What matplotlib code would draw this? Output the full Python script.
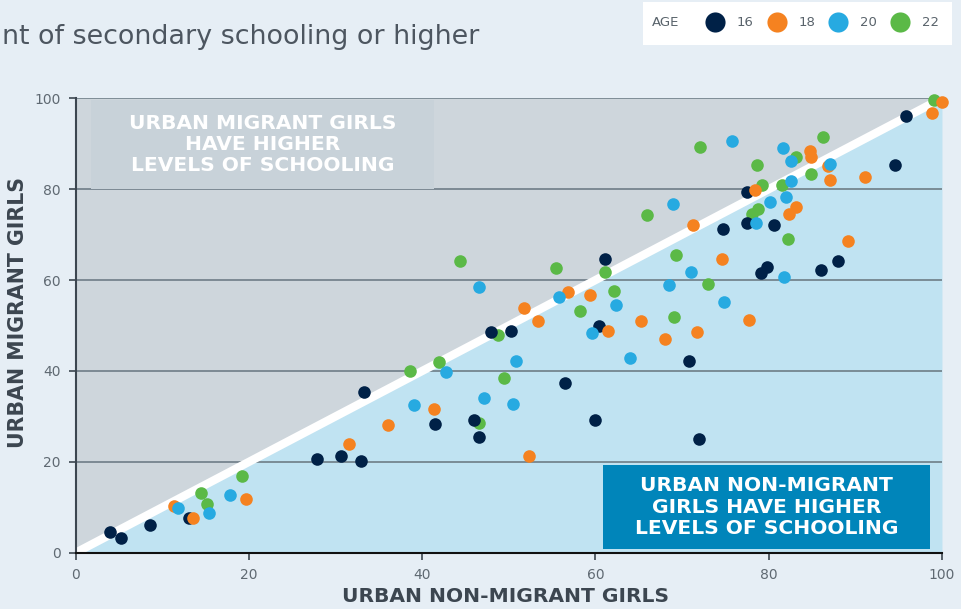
import matplotlib.pyplot as plt
from matplotlib.lines import Line2D
from matplotlib.patches import Rectangle

#%% data: share (%) with secondary schooling or higher, by age
ages = ['16', '18', '20', '22']
colors = {'16': '#002147', '18': '#f58220', '20': '#27aae1', '22': '#5bb947'}

nonmig_16 = [4.0, 5.2, 8.6, 13.1, 27.9, 30.6, 32.9, 33.3, 41.5, 46.0, 46.6, 47.9, 50.3, 56.5, 59.9,
             60.4, 61.1, 70.8, 72.0, 74.7, 77.5, 77.5, 80.6, 79.8, 79.1, 86.0, 88.0, 94.6, 95.8]
mig_16 = [4.6, 3.3, 6.2, 7.6, 20.6, 21.3, 20.1, 35.4, 28.4, 29.2, 25.5, 48.5, 48.7, 37.4, 29.2,
          50.0, 64.7, 42.3, 25.1, 71.2, 79.3, 72.5, 72.1, 62.9, 61.6, 62.2, 64.3, 85.4, 96.1]

nonmig_18 = [100.0, 98.8, 84.8, 84.9, 86.8, 87.1, 91.1, 78.4, 83.2, 82.3, 71.3, 89.2, 74.6, 56.8, 59.4,
             51.7, 53.4, 61.5, 65.3, 71.7, 77.7, 68.0, 52.3, 41.4, 36.1, 31.6, 19.6, 11.3, 13.5]
mig_18 = [99.1, 96.8, 88.5, 87.0, 85.2, 82.0, 82.6, 79.9, 76.1, 74.5, 72.1, 68.6, 64.6, 57.3, 56.7,
          53.9, 51.1, 48.9, 51.0, 48.5, 51.2, 47.0, 21.3, 31.6, 28.0, 23.9, 11.8, 10.3, 7.6]

nonmig_20 = [75.8, 81.6, 82.6, 87.1, 82.6, 68.9, 80.2, 82.0, 78.5, 71.0, 68.5, 81.8, 55.8, 62.4, 74.8,
             59.6, 64.0, 50.8, 50.5, 47.1, 46.5, 42.7, 39.1, 17.8, 15.4, 11.8]
mig_20 = [90.6, 89.1, 86.2, 85.6, 81.8, 76.8, 77.1, 78.3, 72.6, 61.7, 58.9, 60.7, 56.3, 54.5, 55.2,
          48.3, 42.9, 42.3, 32.7, 34.0, 58.5, 39.8, 32.5, 12.7, 8.7, 9.9]

nonmig_22 = [99.1, 86.3, 72.1, 83.2, 78.7, 84.9, 79.2, 81.5, 78.8, 78.1, 66.0, 82.2, 69.3, 55.5, 61.1,
             62.1, 73.0, 58.2, 69.1, 48.7, 44.4, 49.4, 46.5, 41.9, 38.6, 19.2, 14.5, 15.2]
mig_22 = [99.6, 91.4, 89.3, 87.0, 85.3, 83.4, 80.9, 80.9, 75.6, 74.5, 74.3, 69.0, 65.5, 62.7, 61.8,
          57.6, 59.2, 53.2, 51.9, 47.9, 64.2, 38.4, 28.5, 42.0, 40.0, 16.9, 13.2, 10.7]

series = {'16': (nonmig_16, mig_16), '18': (nonmig_18, mig_18),
          '20': (nonmig_20, mig_20), '22': (nonmig_22, mig_22)}
draw_order = ['22', '16', '18', '20']

lims = [0, 100]
yticks = [0, 20, 40, 60, 80, 100]

#%% figure
bg = '#e6eef5'
txt = '#3c4650'
fig = plt.figure(figsize=(9.61, 6.09), dpi=100, facecolor=bg)
ax = fig.add_axes([0.0788, 0.0924, 0.9014, 0.7462])
ax.set_facecolor(bg)

# the two regions either side of the parity line
ax.fill_between(lims, lims, lims[1], color='#ced6dc', lw=0, zorder=0)
ax.fill_between(lims, lims[0], lims, color='#c0e3f2', lw=0, zorder=0)
for y in yticks[1:]:
    ax.axhline(y, color='#6e7d87', lw=1.2, zorder=1)
ax.plot(lims, lims, color='white', lw=6, solid_capstyle='butt', zorder=2)

for age in draw_order:
    xs, ys = series[age]
    ax.scatter(xs, ys, s=82, color=colors[age], lw=0, zorder=3, clip_on=False)

ax.set_xlim(lims)
ax.set_ylim(lims)
ax.set_xticks(yticks)
ax.set_yticks(yticks)
for s in ['top', 'right']:
    ax.spines[s].set_visible(False)
ax.spines['left'].set_color('#3c4650')
ax.spines['bottom'].set_color('#111111')
ax.spines['left'].set_linewidth(1.5)
ax.spines['bottom'].set_linewidth(1.5)
ax.tick_params(length=5, width=1.2, colors='#3c4650', labelcolor='#5f6972', labelsize=10, pad=6)

# annotation boxes
ax.add_patch(Rectangle((0.0177, 0.800), 0.396, 0.196, transform=ax.transAxes,
                       color='#c8d2d9', lw=0, zorder=1.5))
ax.text(0.2157, 0.898, 'URBAN MIGRANT GIRLS\nHAVE HIGHER\nLEVELS OF SCHOOLING',
        transform=ax.transAxes, ha='center', va='center', color='white',
        fontsize=14.6, fontweight='bold', linespacing=1.15, zorder=4)
ax.add_patch(Rectangle((0.6087, 0.008), 0.3775, 0.185, transform=ax.transAxes,
                       color='#0085ba', lw=0, zorder=4))
ax.text(0.7975, 0.1005, 'URBAN NON-MIGRANT\nGIRLS HAVE HIGHER\nLEVELS OF SCHOOLING',
        transform=ax.transAxes, ha='center', va='center', color='white',
        fontsize=14.6, fontweight='bold', linespacing=1.15, zorder=5)

fig.text(506 / 961, 1 - 597 / 609, 'URBAN NON-MIGRANT GIRLS', ha='center', va='center',
         fontsize=14.6, fontweight='bold', color=txt)
fig.text(18 / 961, 1 - 312 / 609, 'URBAN MIGRANT GIRLS', ha='center', va='center', rotation=90,
         fontsize=14.8, fontweight='bold', color=txt)

# subtitle (cut off on the left in the original)
fig.text(0.002, 1 - 37 / 609, 'nt of secondary schooling or higher', ha='left', va='center',
         fontsize=19.4, color='#4d5660')

# legend
fig.patches.append(Rectangle((643 / 961, 1 - 45 / 609), 309 / 961, 43 / 609,
                             transform=fig.transFigure, color='white', lw=0))
fig.text(652 / 961, 1 - 23 / 609, 'AGE', ha='left', va='center', fontsize=9.5, color='#59636b')
handles = [Line2D([], [], ls='none', marker='o', markersize=14.5, markeredgewidth=0,
                  color=colors[a]) for a in ages]
fig.legend(handles, ages, loc='center left', bbox_to_anchor=(705 / 961, 1 - 23 / 609),
           ncol=4, frameon=False, fontsize=9.5, labelcolor='#59636b', borderpad=0,
           borderaxespad=0, handlelength=1.5, handletextpad=0.9, columnspacing=1.0)

fig.savefig('out.png', dpi=100, facecolor=bg)
